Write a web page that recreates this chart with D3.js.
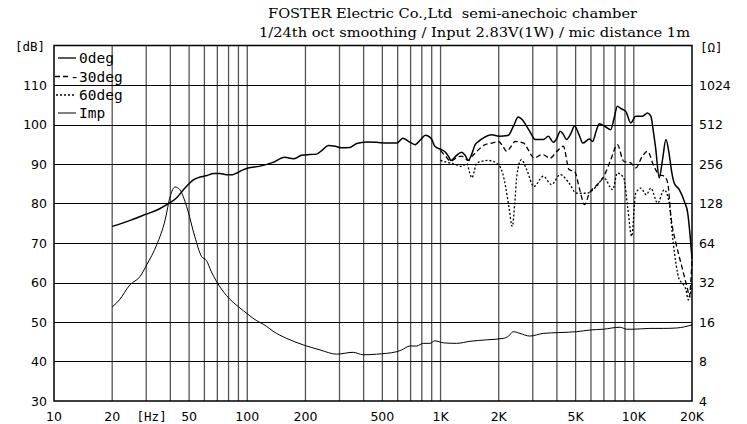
<html>
<head>
<meta charset="utf-8">
<script src="https://d3js.org/d3.v7.min.js"></script>
<style>
body { margin: 0; background: #fff; }
svg { display: block; }
.tick-label { font-family: "DejaVu Sans", sans-serif; font-size: 12.5px; fill: #000; }
.unit { font-family: "DejaVu Sans Mono", monospace; font-size: 12.5px; fill: #000; }
.legend { font-family: "DejaVu Sans Mono", monospace; font-size: 14.5px; fill: #000; }
.title { font-family: "DejaVu Serif", serif; font-size: 13px; fill: #000; }
</style>
</head>
<body>
<svg width="747" height="424"></svg>
<script>

// 0deg on-axis response [Hz, dB]
var spl0 = [
  [20,74.2],[25,75.8],[30,77.3],[35,78.6],[38.3,79.7],[43,81.4],[47.6,83.9],[52.6,86.0],[57,86.7],
  [62,87.1],[66.7,87.6],[72,87.6],[78,87.3],[84,87.3],[88,87.7],[95,88.5],[101,89.0],[115,89.4],
  [136,90.4],[156,91.7],[173,91.3],[191,92.2],[210,92.4],[228,92.5],[245,93.6],[263,94.7],[285,94.5],
  [307,94.1],[340,94.2],[368,95.2],[415,95.6],[467,95.5],[527,95.3],[594,95.3],[638,96.5],[690,95.6],
  [738,94.9],[790,96.2],[835,97.3],[880,96.8],[901,96.2],[934,94.5],[1013,93.6],[1060,93.0],[1110,91.6],
  [1130,90.9],[1200,92.0],[1283,93.0],[1340,92.2],[1392,90.9],[1450,92.5],[1510,94.9],[1580,95.8],
  [1667,96.6],[1842,97.4],[2011,97.0],[2231,97.2],[2380,99.5],[2523,101.9],[2650,101.2],[2787,99.6],
  [2930,97.8],[3080,96.2],[3402,96.2],[3612,97.0],[3836,95.5],[4000,96.5],[4160,98.3],[4320,97.5],
  [4480,96.2],[4700,97.5],[4940,99.6],[5200,97.5],[5450,95.3],[5890,96.3],[6120,95.7],[6400,98.5],
  [6630,100.2],[7100,99.5],[7600,98.7],[7900,101.5],[8220,104.6],[8600,104.0],[9090,103.3],[9640,100.4],
  [10230,102.1],[11080,102.1],[11770,102.9],[12250,102.1],[12600,98.5],[13000,93.6],[13530,86.5],
  [14080,91.1],[14660,96.2],[15250,92.4],[15700,88.0],[16180,85.2],[17190,83.5],[18260,80.5],
  [19000,77.6],[19500,72.5],[20000,66.0]
];

// 30deg off-axis response [Hz, dB]
var spl30 = [
  [1000,93.4],[1060,92.0],[1130,90.7],[1200,91.5],[1283,92.0],[1392,90.9],[1460,92.0],[1540,93.2],
  [1700,94.9],[1842,95.3],[1995,95.7],[2100,94.5],[2200,93.2],[2320,94.5],[2430,95.7],[2690,95.3],
  [2850,93.5],[3040,91.5],[3360,92.4],[3690,91.5],[4000,93.2],[4320,94.5],[4620,88.6],[4940,88.1],
  [5250,83.5],[5560,79.7],[5890,82.6],[6480,84.8],[7000,86.9],[7600,91.1],[8220,94.9],[8860,90.7],
  [9640,90.3],[10230,89.0],[11080,92.0],[11770,93.2],[12710,89.4],[13530,87.3],[14370,86.9],
  [14980,85.2],[15560,76.7],[16510,70.0],[17530,64.9],[18260,61.5],[19000,58.1],[19380,56.4],
  [19700,60.0],[20000,65.7]
];

// 60deg off-axis response [Hz, dB]
var spl60 = [
  [1000,90.9],[1080,90.4],[1160,90.1],[1283,89.4],[1370,90.1],[1410,88.0],[1455,86.5],[1500,88.5],
  [1540,90.3],[1770,90.9],[1995,89.8],[2100,87.5],[2170,84.3],[2260,79.0],[2350,74.2],[2420,80.0],
  [2480,86.9],[2620,91.1],[2790,88.6],[3040,84.3],[3400,86.9],[3750,84.8],[4160,87.3],[4620,85.2],
  [5050,82.6],[5690,82.6],[6410,84.3],[7000,86.5],[7770,83.5],[8220,87.7],[8860,86.5],[9280,79.3],
  [9750,71.7],[10230,82.6],[10890,83.9],[11600,82.2],[12250,83.9],[13270,80.1],[14370,83.5],
  [15250,80.1],[15860,71.7],[16510,64.9],[17190,60.7],[17870,59.8],[18620,58.1],[19140,55.6],
  [19770,58.1],[20000,60.0]
];

// impedance [Hz, ohm]
var imp = [
  [20,20.8],[21.8,23.6],[24.7,30.7],[27.9,35.6],[30.2,43.7],[34,62],[37.6,96.3],[39.9,145],[42.3,171],
  [44.8,163],[48.5,122],[53.5,71.8],[58,50.5],[61.5,47.1],[65,39],[69.3,32.6],[78,25.5],[91.5,20.5],
  [100,18.5],[107,17.1],[126,14.8],[136,13.6],[160,12],[195,10.7],[238,9.8],[290,9.1],[353,9.4],
  [398,9.0],[467,9.1],[593,9.5],[629,9.8],[695,10.5],[752,10.5],[814,11.0],[881,11.0],[935,11.5],
  [1033,11.1],[1212,11.0],[1419,11.4],[1732,11.7],[2110,12.0],[2250,12.5],[2377,13.5],[2575,13.1],
  [2900,12.5],[3398,13.1],[4146,13.3],[5060,13.5],[5930,13.9],[6950,14.1],[8480,14.6],[9180,14.1],
  [9930,14.1],[12110,14.3],[14190,14.3],[16640,14.4],[20000,15.2]
];

var xLabelFreqs = [10, 20, 50, 100, 200, 500, 1000, 2000, 5000, 10000, 20000];
var xLabelTexts = ["10", "20", "50", "100", "200", "500", "1K", "2K", "5K", "10K", "20K"];
var dbTicks = [30, 40, 50, 60, 70, 80, 90, 100, 110];
var ohmTicks = [4, 8, 16, 32, 64, 128, 256, 512, 1024];
var legendNames = ["0deg", "-30deg", "60deg", "Imp"];
var titleLines = ["FOSTER Electric Co.,Ltd  semi-anechoic chamber",
                  "1/24th oct smoothing / Input 2.83V(1W) / mic distance 1m"];

var svg = d3.select("svg"),
    plotL = 54, plotR = 692, plotT = 45.5, plotB = 401;

var x = d3.scaleLog().domain([10, 20000]).range([plotL, plotR]);
var y = d3.scaleLinear().domain([30, 120]).range([plotB, plotT]);
var yImp = d3.scaleLog().base(2).domain([4, 2048]).range([plotB, plotT]);

// grid
var grid = svg.append("g");
grid.selectAll(".vl")
    .data(x.ticks().filter(function(f) { return f > 10 && f < 20000; }))
  .enter().append("line")
    .attr("x1", d => x(d)).attr("x2", d => x(d))
    .attr("y1", plotT).attr("y2", plotB)
    .attr("stroke", "#555").attr("stroke-width", 1.3);

grid.selectAll(".hl")
    .data(d3.range(40, 120, 10))
  .enter().append("line")
    .attr("x1", plotL).attr("x2", plotR)
    .attr("y1", d => Math.round(y(d)) + 0.5).attr("y2", d => Math.round(y(d)) + 0.5)
    .attr("stroke", "#000").attr("stroke-width", 1);

svg.append("rect")
    .attr("x", plotL).attr("y", plotT)
    .attr("width", plotR - plotL).attr("height", plotB - plotT)
    .attr("fill", "none").attr("stroke", "#000").attr("stroke-width", 1.5);

// axis labels
svg.selectAll(".xl")
    .data(xLabelFreqs)
  .enter().append("text")
    .attr("class", "tick-label")
    .attr("x", d => x(d)).attr("y", 420.5)
    .attr("text-anchor", "middle")
    .text((d, i) => xLabelTexts[i]);

svg.append("text").attr("class", "unit")
    .attr("x", x(32)).attr("y", 420.5).attr("text-anchor", "middle").text("[Hz]");

svg.selectAll(".yl")
    .data(dbTicks)
  .enter().append("text")
    .attr("class", "tick-label")
    .attr("x", 47).attr("y", d => y(d) + 4.5)
    .attr("text-anchor", "end")
    .text(d => d);

svg.append("text").attr("class", "unit")
    .attr("x", 45).attr("y", 51).attr("text-anchor", "end").text("[dB]");

svg.selectAll(".yr")
    .data(ohmTicks)
  .enter().append("text")
    .attr("class", "tick-label")
    .attr("x", 699).attr("y", d => yImp(d) + 4.5)
    .text(d => d);

svg.append("text").attr("class", "unit")
    .attr("x", 700).attr("y", 52).text("[Ω]");

// title
svg.append("text").attr("class", "title")
    .attr("x", 268).attr("y", 18)
    .attr("textLength", 369).attr("lengthAdjust", "spacingAndGlyphs")
    .style("white-space", "pre")
    .text(titleLines[0]);
svg.append("text").attr("class", "title")
    .attr("x", 259).attr("y", 37)
    .attr("textLength", 431).attr("lengthAdjust", "spacingAndGlyphs")
    .text(titleLines[1]);

// curves
var line = d3.line()
    .x(d => x(d[0]))
    .y(d => y(d[1]))
    .curve(d3.curveMonotoneX);

var impLine = d3.line()
    .x(d => x(d[0]))
    .y(d => yImp(d[1]))
    .curve(d3.curveMonotoneX);

svg.append("path").datum(imp)
    .attr("d", impLine)
    .attr("fill", "none").attr("stroke", "#000").attr("stroke-width", 1);

svg.append("path").datum(spl60)
    .attr("d", line)
    .attr("fill", "none").attr("stroke", "#000").attr("stroke-width", 1.3)
    .attr("stroke-dasharray", "2,2");

svg.append("path").datum(spl30)
    .attr("d", line)
    .attr("fill", "none").attr("stroke", "#000").attr("stroke-width", 1.3)
    .attr("stroke-dasharray", "5,3");

svg.append("path").datum(spl0)
    .attr("d", line)
    .attr("fill", "none").attr("stroke", "#000").attr("stroke-width", 1.5);

// legend (no background, grid shows through like the original)
var rowY = [58, 76.5, 95, 113];
var lg = svg.append("g");

lg.append("line").attr("x1", 58).attr("x2", 76).attr("y1", rowY[0]).attr("y2", rowY[0])
    .attr("stroke", "#000").attr("stroke-width", 1.3);
lg.append("line").attr("x1", 55).attr("x2", 69).attr("y1", rowY[1]).attr("y2", rowY[1])
    .attr("stroke", "#000").attr("stroke-width", 1.3).attr("stroke-dasharray", "5,3");
lg.append("line").attr("x1", 56).attr("x2", 76).attr("y1", rowY[2]).attr("y2", rowY[2])
    .attr("stroke", "#000").attr("stroke-width", 1.3).attr("stroke-dasharray", "2,2");
lg.append("line").attr("x1", 58).attr("x2", 76).attr("y1", rowY[3]).attr("y2", rowY[3])
    .attr("stroke", "#000").attr("stroke-width", 1);

var texts = lg.selectAll(".lt")
    .data(legendNames)
  .enter().append("text")
    .attr("class", "legend")
    .attr("x", 79).attr("y", (d, i) => rowY[i] + 5)
    .text(d => d);

// shift "-30deg" so its digits line up with the other labels
texts.filter(d => d.charAt(0) == "-").each(function() {
    var w = this.getSubStringLength(0, 1);
    d3.select(this).attr("x", 79 - w);
});

</script>
</body>
</html>
